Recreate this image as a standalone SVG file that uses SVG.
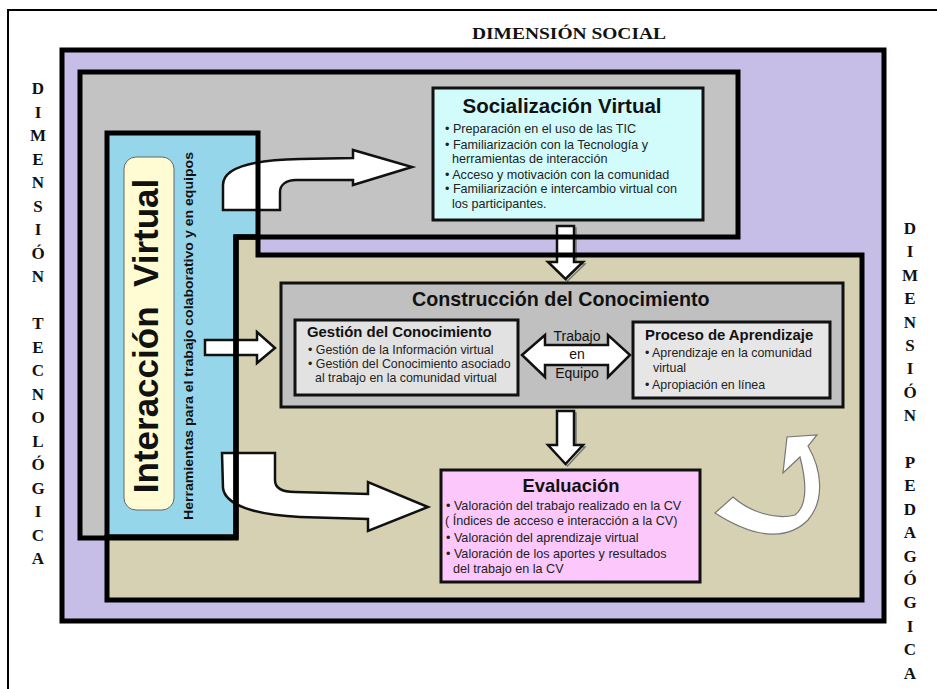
<svg xmlns="http://www.w3.org/2000/svg" width="937" height="689" viewBox="0 0 937 689">
<defs>
<style>
.frame{stroke:#000;stroke-width:5;stroke-linejoin:miter}
.box{stroke:#111;stroke-width:3}
.arrow{fill:#fff;stroke:#111;stroke-width:2.5;stroke-linejoin:miter}
.dim{font-family:"Liberation Serif","Times New Roman",serif;font-weight:bold;font-size:17px;fill:#111;text-anchor:middle}
.ttl{font-family:"Liberation Sans",Arial,sans-serif;font-weight:bold;fill:#111}
.bul{font-family:"Liberation Sans",Arial,sans-serif;font-size:12.6px;fill:#222}
.sm{font-size:12.4px}
</style>
</defs>
<rect width="937" height="689" fill="#fff"/>
<path d="M8,689 V10 H937" fill="none" stroke="#000" stroke-width="2"/>

<g id="dim-social"><text x="569" y="39" class="dim" font-size="20" textLength="194" lengthAdjust="spacingAndGlyphs">DIMENSIÓN SOCIAL</text></g>

<g id="dim-tecnologica" class="dim">
<text x="38" y="94">D</text><text x="38" y="117.5">I</text><text x="38" y="141">M</text><text x="38" y="164.5">E</text><text x="38" y="188">N</text><text x="38" y="211.5">S</text><text x="38" y="235">I</text><text x="38" y="258.5">Ó</text><text x="38" y="282">N</text>
<text x="38" y="329">T</text><text x="38" y="352.5">E</text><text x="38" y="376">C</text><text x="38" y="399.5">N</text><text x="38" y="423">O</text><text x="38" y="446.5">L</text><text x="38" y="470">Ó</text><text x="38" y="493.5">G</text><text x="38" y="517">I</text><text x="38" y="540.5">C</text><text x="38" y="564">A</text>
</g>

<g id="dim-pedagogica" class="dim">
<text x="910" y="234">D</text><text x="910" y="257.4">I</text><text x="910" y="280.8">M</text><text x="910" y="304.2">E</text><text x="910" y="327.6">N</text><text x="910" y="351">S</text><text x="910" y="374.4">I</text><text x="910" y="397.8">Ó</text><text x="910" y="421.2">N</text>
<text x="910" y="468">P</text><text x="910" y="491.4">E</text><text x="910" y="514.8">D</text><text x="910" y="538.2">A</text><text x="910" y="561.6">G</text><text x="910" y="585">Ó</text><text x="910" y="608.4">G</text><text x="910" y="631.8">I</text><text x="910" y="655.2">C</text><text x="910" y="678.6">A</text>
</g>

<!-- region fills -->
<g id="region-social-frame"><rect x="62" y="50" width="822" height="571" fill="#c6bee6" class="frame"/></g>
<g id="region-fills">
<polygon id="gray-fill" points="80,72 738,72 738,237 236,237 236,538 80,538" fill="#c3c3c3"/>
<polygon id="cyan-fill" points="107,133 258,133 258,237 236,237 236,537 107,537" fill="#95d6ea"/>
<polygon id="tan-fill" points="236,237 258,237 258,255 862,255 862,600 107,600 107,537 236,537" fill="#d5d1b2"/>
</g>

<g id="interaccion-labels">
<rect x="124" y="157" width="50" height="353" rx="12" fill="#fffbd2" stroke="#666" stroke-width="1"/>
<text transform="translate(158,336) rotate(-90)" class="ttl" font-size="35" text-anchor="middle" xml:space="preserve">Interacción  Virtual</text>
<text transform="translate(193,336) rotate(-90)" class="ttl" font-size="13" text-anchor="middle" textLength="368" lengthAdjust="spacingAndGlyphs">Herramientas para el trabajo colaborativo y en equipos</text>
</g>

<g id="connectors">
<path id="arrow-to-socializacion" class="arrow" d="M223,210 L223,185 C223,168 250,160 300,159 L353,158 L353,150 L412,167 L353,185 L353,180 L296,180 C286,180 280,185 280,192 L280,210 Z"/>
<path id="arrow-to-construccion" class="arrow" d="M205,340 L257,340 L257,332 L275,348 L257,363 L257,355 L205,355 Z"/>
<path id="arrow-to-evaluacion" class="arrow" d="M222,453 L275,453 L275,480 C275,488 282,492 295,492 L368,494 L368,482 L428,507 L368,531 L368,519 L300,517 C255,515 225,505 223,488 Z"/>
<path d="M559,228 L576,228 L576,264 L585,264 L567.5,281 L550,264 L559,264 Z" fill="none" stroke="#777" stroke-width="1.5"/>
<path id="arrow-soc-con" class="arrow" d="M557,226 L574,226 L574,262 L583,262 L565.5,279 L548,262 L557,262 Z"/>
<path d="M559,413 L576,413 L576,447 L585,447 L567.5,466 L550,447 L559,447 Z" fill="none" stroke="#777" stroke-width="1.5"/>
<path id="arrow-con-eva" class="arrow" d="M557,411 L574,411 L574,445 L583,445 L565.5,464 L548,445 L557,445 Z"/>
<path id="arrow-cycle" d="M715,513 L733,497 C750,512 775,520 795,515 C808,505 806,480 800,457 L783,473 L787,437 L817,435 L808,446 C822,470 825,500 808,520 C790,538 760,542 715,513 Z" fill="#fff" stroke="#777" stroke-width="1.2"/>
</g>

<!-- region borders drawn above arrows -->
<g id="region-borders" fill="none" class="frame">
<polygon points="80,72 738,72 738,237 236,237 236,538 80,538"/>
<polygon points="107,133 258,133 258,237 236,237 236,537 107,537"/>
<polygon points="236,237 258,237 258,255 862,255 862,600 107,600 107,537 236,537"/>
</g>

<g id="socializacion">
<rect x="433" y="88" width="270" height="132" fill="#d2fbfb" class="box"/>
<text x="562" y="113" class="ttl" font-size="20.5" text-anchor="middle">Socialización Virtual</text>
<text class="bul"><tspan x="445" y="133">• Preparación en el uso de las TIC</tspan><tspan x="445" y="149">• Familiarización con la Tecnología y</tspan><tspan x="452" y="163">herramientas de interacción</tspan><tspan x="445" y="179">• Acceso y motivación con la comunidad</tspan><tspan x="445" y="193">• Familiarización e intercambio virtual con</tspan><tspan x="452" y="208">los participantes.</tspan></text>
</g>

<g id="construccion">
<rect x="281" y="283" width="562" height="124" fill="#c0c0c0" class="box"/>
<text x="412" y="306" class="ttl" font-size="19.7">Construcción del Conocimiento</text>
</g>

<g id="gestion">
<rect x="295" y="320" width="223" height="75" fill="#e2e2e2" class="box"/>
<text x="307" y="337" class="ttl" font-size="14.9">Gestión del Conocimiento</text>
<text class="bul sm"><tspan x="308" y="354">• Gestión de la Información virtual</tspan><tspan x="308" y="368">• Gestión del Conocimiento asociado</tspan><tspan x="315" y="382">al trabajo en la comunidad virtual</tspan></text>
</g>

<g id="trabajo-equipo">
<path class="arrow" d="M522,355 L545,335 L545,345 L608,345 L608,335 L630,355 L608,377 L608,365 L545,365 L545,377 Z"/>
<text class="ttl" font-size="14" text-anchor="middle" style="font-weight:normal"><tspan x="577" y="341">Trabajo</tspan><tspan x="577" y="359">en</tspan><tspan x="577" y="378">Equipo</tspan></text>
</g>

<g id="proceso">
<rect x="633" y="322" width="197" height="76" fill="#e6e6e6" class="box"/>
<text x="645" y="340" class="ttl" font-size="14.9">Proceso de Aprendizaje</text>
<text class="bul sm"><tspan x="645" y="357">• Aprendizaje en la comunidad</tspan><tspan x="653" y="372">virtual</tspan><tspan x="645" y="389">• Apropiación en línea</tspan></text>
</g>

<g id="evaluacion">
<rect x="441" y="470" width="259" height="112" fill="#fcc8fc" class="box"/>
<text x="571" y="492" class="ttl" font-size="19" text-anchor="middle" textLength="97" lengthAdjust="spacingAndGlyphs">Evaluación</text>
<text class="bul"><tspan x="446" y="510">• Valoración del trabajo realizado en la CV</tspan><tspan x="445" y="525">( Índices de acceso e interacción a la CV)</tspan><tspan x="446" y="542">• Valoración del aprendizaje virtual</tspan><tspan x="446" y="558">• Valoración de los aportes y resultados</tspan><tspan x="453" y="573">del trabajo en la CV</tspan></text>
</g>
</svg>
